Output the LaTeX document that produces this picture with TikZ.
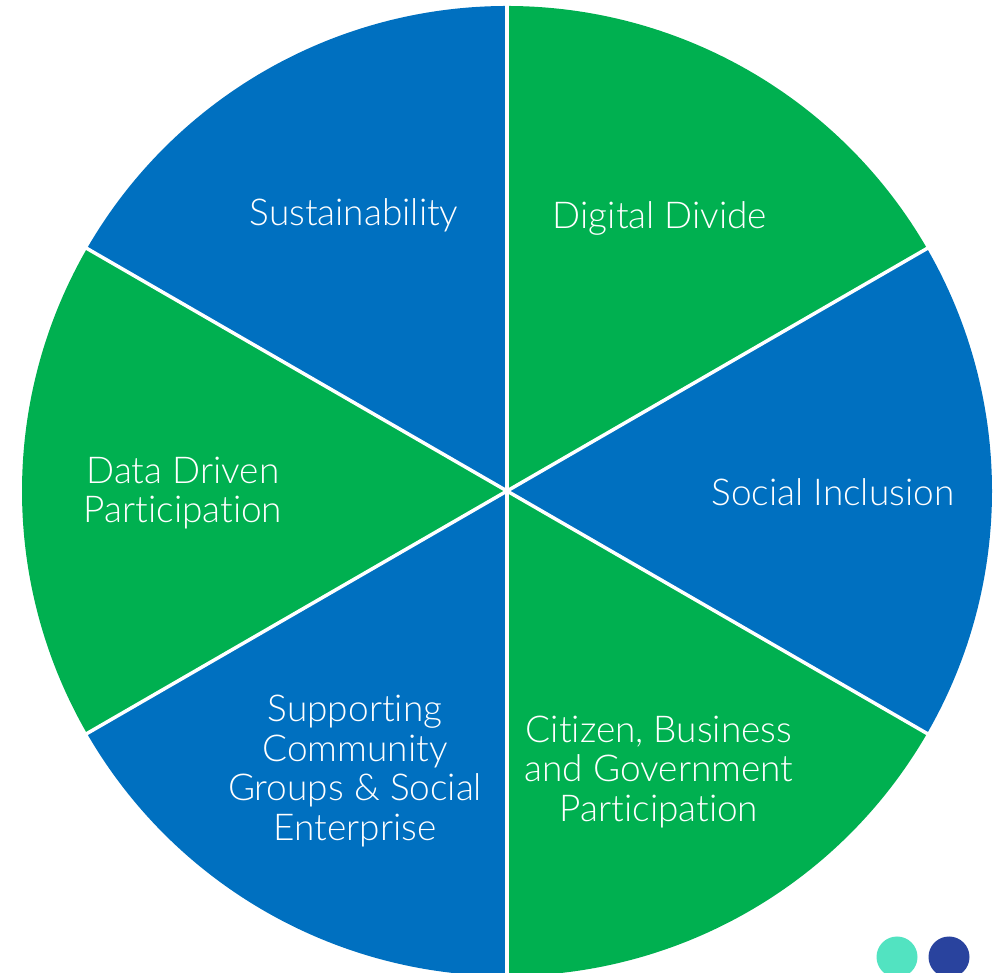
\documentclass[tikz,border=0pt]{standalone}
\usepackage{fontspec}
\setmainfont{Lato}[UprightFont={* Light},Ligatures=NoCommon]
\definecolor{pgreen}{RGB}{0,176,80}
\definecolor{pblue}{RGB}{0,112,192}
\definecolor{dotteal}{RGB}{82,227,193}
\definecolor{dotnavy}{RGB}{41,67,158}
\begin{document}
\begin{tikzpicture}[x=1pt,y=1pt,
  lbl/.style={text=white,align=center,font=\fontsize{37}{39.5}\selectfont,inner sep=0pt},
  sep/.style={draw=white,line width=3.5pt},
  dot/.style={circle,minimum size=41pt,inner sep=0pt}]
\useasboundingbox (0,0) rectangle (1000,973);
\coordinate (c) at (507,482);
\def\R{485}
\fill[pgreen] (c) -- ++(90:\R) arc (90:30:\R) -- cycle;
\fill[pblue] (c) -- ++(30:\R) arc (30:-30:\R) -- cycle;
\fill[pgreen] (c) -- ++(-30:\R) arc (-30:-90:\R) -- cycle;
\fill[pblue] (c) -- ++(-90:\R) arc (-90:-150:\R) -- cycle;
\fill[pgreen] (c) -- ++(-150:\R) arc (-150:-210:\R) -- cycle;
\fill[pblue] (c) -- ++(150:\R) arc (150:90:\R) -- cycle;
\foreach \a in {90,30,-30,-90,-150,150}{
  \draw[sep] (c) -- ++(\a:\R+2);
}
\node[lbl] (sus) at (354,758) {Sustainability};
\node[lbl] (dig) at (660,755) {Digital Divide};
\node[lbl] (soc) at (833,481) {Social Inclusion};
\node[lbl] (cit) at (659,201) {Citizen, Business\\and Government\\Participation};
\node[lbl] (dat) at (183,480) {Data Driven\\Participation};
\node[lbl] (sup) at (355,202) {Supporting\\Community\\Groups \& Social\\Enterprise};
\node[dot,fill=dotteal] (d1) at (897,16) {};
\node[dot,fill=dotnavy] (d2) at (949,16) {};
\end{tikzpicture}
\end{document}
